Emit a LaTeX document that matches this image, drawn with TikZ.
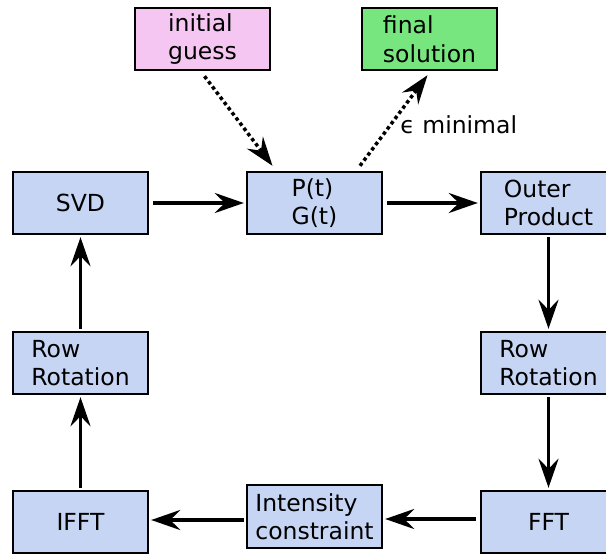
\documentclass[tikz,border=0pt]{standalone}
\usepackage{fontspec}
\setmainfont{DejaVu Sans}
\usepackage{tikz}
\usetikzlibrary{arrows.meta}

\definecolor{boxblue}{HTML}{C6D5F3}
\definecolor{boxpink}{HTML}{F4C6F1}
\definecolor{boxgreen}{HTML}{77E67E}

\begin{document}
\begin{tikzpicture}[x=1pt, y=1pt,
    stepbox/.style={draw=black, line width=2.4pt, fill=boxblue, minimum width=135pt,
      minimum height=62pt, inner sep=0pt, align=left,
      font=\fontsize{23.5}{28.5}\selectfont},
    flow/.style={line width=3.5pt, -{Stealth[length=29pt, width=20pt, inset=10pt]}},
    dotflow/.style={flow, dash pattern=on 3.5pt off 3pt}]
  \useasboundingbox (0,0) rectangle (606,-554);

  \node[stepbox, fill=boxpink] (guess) at (202.5,-39) {initial\\guess};
  \node[stepbox, fill=boxgreen] (final) at (429.5,-39) {final\\solution};

  \node[stepbox] (svd) at (80.5,-203) {SVD};
  \node[stepbox] (pg) at (314.5,-203) {P(t)\\G(t)};
  \node[stepbox] (outer) at (548.5,-203) {Outer\\Product};

  \node[stepbox] (rotl) at (80.5,-363) {Row\\Rotation};
  \node[stepbox] (rotr) at (548.5,-363) {Row\\Rotation};

  \node[stepbox] (ifft) at (80.5,-522) {IFFT};
  \node[stepbox, minimum height=63pt] (inten) at (314.5,-516.5) {Intensity\\constraint};
  \node[stepbox] (fft) at (548.5,-522) {FFT};

  % main loop
  \draw[flow] ([xshift=4pt]svd.east) -- ([xshift=-2pt]pg.west);
  \draw[flow] ([xshift=4pt]pg.east) -- ([xshift=-2pt]outer.west);
  \draw[flow] ([yshift=-2pt]outer.south) -- ([yshift=2pt]rotr.north);
  \draw[flow] ([yshift=-2pt]rotr.south) -- ([yshift=2pt]fft.north);
  \draw[flow] ([xshift=-4pt,yshift=3pt]fft.west) -- ([xshift=2pt,yshift=-2.5pt]inten.east);
  \draw[flow] ([xshift=-2pt,yshift=-3.5pt]inten.west) -- ([xshift=2pt,yshift=2pt]ifft.east);
  \draw[flow] ([yshift=2pt]ifft.north) -- ([yshift=-2pt]rotl.south);
  \draw[flow] ([yshift=2pt]rotl.north) -- ([yshift=-2pt]svd.south);

  % start and exit
  \draw[dotflow] ([shift={(2,-5)}]guess.south) -- ([shift={(-42,5)}]pg.north);
  \draw[dotflow] ([shift={(45.5,5)}]pg.north) -- ([shift={(-2,-4)}]final.south)
    node[pos=0.45, anchor=west, xshift=5pt, font=\fontsize{23.5}{28.5}\selectfont] (eps) {ϵ minimal};
\end{tikzpicture}
\end{document}
